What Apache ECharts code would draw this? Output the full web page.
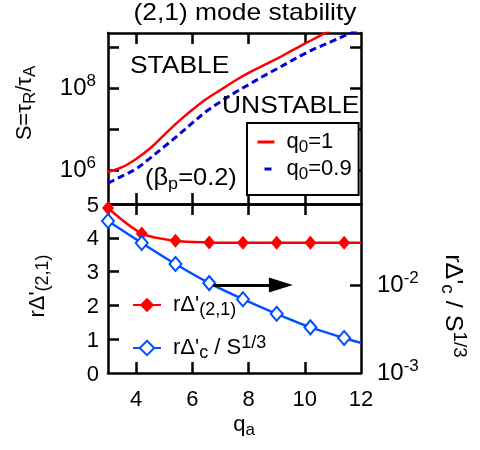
<!DOCTYPE html>
<html>
<head>
<meta charset="utf-8">
<script src="https://cdn.jsdelivr.net/npm/echarts@6/dist/echarts.min.js"></script>
<style>
  html, body { margin: 0; padding: 0; background: #fff; }
  #chart { width: 480px; height: 450px; }
</style>
</head>
<body>
<div id="chart"></div>
<script>
// ---- data ----
// Upper panel: Lundquist number threshold S = tau_R / tau_A versus q_a
const qTop = [3.0, 3.5, 4.0, 4.5, 5.0, 5.5, 6.0, 6.5, 7.0, 7.5, 8.0, 8.5, 9.0, 9.5, 10.0, 10.5, 11.0, 11.5, 12.0];
const sQ0One = [8.9e5, 1.17e6, 1.86e6, 3.39e6, 7.2e6, 1.51e7, 2.95e7, 5.4e7, 8.9e7, 1.48e8, 2.34e8, 3.47e8, 5.1e8, 7.9e8, 1.2e9, 1.82e9, 2.75e9];
const sQ0Nine = [4.8e5, 7.1e5, 1.07e6, 1.95e6, 3.7e6, 7.1e6, 1.4e7, 2.7e7, 4.6e7, 7.6e7, 1.2e8, 1.9e8, 2.9e8, 4.5e8, 6.9e8, 1.0e9, 1.4e9, 2.0e9, 2.75e9];

// Lower panel: r*Delta'(2,1) (left axis) and r*Delta'_c / S^(1/3) (right axis)
const qa = [3.0, 4.2, 5.4, 6.6, 7.8, 9.0, 10.2, 11.4, 12.0];
const rDelta21 = [4.88, 4.13, 3.91, 3.86, 3.85, 3.85, 3.85, 3.85, 3.85];
const rDeltaC = [0.0533, 0.0300, 0.0173, 0.0105, 0.0069, 0.0047, 0.0033, 0.0025, 0.0022];
const markedCount = 8; // the last point of each lower curve carries no marker

// Tick positions and labels
const xTicks = [4, 6, 8, 10];
const xTickLabels = [4, 6, 8, 10, 12];
const sTicks = [1e6, 1e7, 1e8, 1e9];
const sTickLabels = [1e6, 1e8];
const leftTicks = [1, 2, 3, 4];
const leftTickLabels = [0, 1, 2, 3, 4, 5];
const rightTicks = [0.01];
const rightTickLabels = [0.001, 0.01];

// Arrow pointing at the right-hand axis
const arrowFrom = [6.75, 0.01];
const arrowTo = [9.15, 0.01];

// Series names
const NAME_Q1 = 'q0=1';
const NAME_Q09 = 'q0=0.9';
const NAME_D21 = "rΔ'(2,1)";
const NAME_DC = "rΔ'c / S1/3";

// ---- styles ----
const FONT = "'Liberation Sans', Arial, Helvetica, sans-serif";
const BLACK = '#000';
const RED = '#ff0000';
const DARK_BLUE = '#0000d8';
const BLUE = '#0050ff';
const FS = 22;

const rich = {
  b: { fontSize: FS, fontFamily: FONT, color: BLACK, lineHeight: 28 },
  big: { fontSize: 24, fontFamily: FONT, color: BLACK, lineHeight: 30 },
  sub: { fontSize: 17, fontFamily: FONT, color: BLACK, lineHeight: 17, verticalAlign: 'bottom' },
  sup: { fontSize: 17, fontFamily: FONT, color: BLACK, lineHeight: 17, verticalAlign: 'top' },
  sub2: { fontSize: 18, fontFamily: FONT, color: BLACK, lineHeight: 18, verticalAlign: 'bottom' },
  sup2: { fontSize: 18, fontFamily: FONT, color: BLACK, lineHeight: 18, verticalAlign: 'top' },
  sp: { width: 7 }
};

const legendText = {};
legendText[NAME_Q1] = '{sp| }{b|q}{sub|0}{b|=1}';
legendText[NAME_Q09] = '{sp| }{b|q}{sub|0}{b|=0.9}';
legendText[NAME_D21] = "{sp| }{b|rΔ'}{sub2|(2,1)}";
legendText[NAME_DC] = "{sp| }{b|rΔ'}{sub2|c}{b| / S}{sup2|1/3}";

function pow10(v) {
  const e = Math.round(Math.log10(v));
  return '{big|10}{sup|' + e + '}';
}

const frameLine = { show: true, onZero: false, lineStyle: { color: BLACK, width: 2.5 } };
function ticks(values) {
  return { show: true, inside: true, length: 11, customValues: values, lineStyle: { color: BLACK, width: 2.5 } };
}
function labels(show, values, extra) {
  return Object.assign({ show: show, customValues: values, color: BLACK, fontSize: FS, fontFamily: FONT, rich: rich }, extra || {});
}

function xAxis(grid, position, showLabels) {
  return {
    type: 'value', gridIndex: grid, position: position, min: 3, max: 12,
    axisLine: frameLine, axisTick: ticks(xTicks),
    axisLabel: labels(showLabels, xTickLabels, { margin: 16 }),
    splitLine: { show: false }
  };
}

function pairs(xs, ys) {
  return ys.map((y, i) => [xs[i], y]);
}
function markedPairs(xs, ys) {
  return ys.map((y, i) => i < markedCount ? [xs[i], y] : { value: [xs[i], y], symbol: 'none' });
}

// Free-standing text: plain strings use a 24px font, marked-up strings use the rich styles
function annotation(x, y, text, opts) {
  opts = opts || {};
  const style = { text: text, rich: rich, fill: BLACK, font: '24px ' + FONT, align: opts.align || 'left', verticalAlign: 'middle' };
  return { type: 'text', x: x, y: y, z: 10, scaleX: opts.scaleX || 1, rotation: opts.rotation || 0, style: style };
}

const chart = echarts.init(document.getElementById('chart'), null, { renderer: 'canvas' });

chart.setOption({
  animation: false,
  backgroundColor: '#fff',
  grid: [
    { left: 108, top: 33, width: 253, height: 171, outerBoundsMode: 'none', containLabel: false },
    { left: 108, top: 204, width: 253, height: 169, outerBoundsMode: 'none', containLabel: false }
  ],
  xAxis: [
    xAxis(0, 'bottom', false),
    xAxis(0, 'top', false),
    xAxis(1, 'bottom', true),
    xAxis(1, 'top', false)
  ],
  yAxis: [
    {
      type: 'log', logBase: 10, gridIndex: 0, position: 'left', min: 1.48e5, max: 2.19e9,
      axisLine: frameLine, axisTick: ticks(sTicks),
      axisLabel: labels(true, sTickLabels, { margin: 12, formatter: pow10 }),
      splitLine: { show: false }, minorTick: { show: false }
    },
    {
      type: 'log', logBase: 10, gridIndex: 0, position: 'right', min: 1.48e5, max: 2.19e9,
      axisLine: frameLine, axisTick: ticks(sTicks),
      axisLabel: { show: false }, splitLine: { show: false }
    },
    {
      type: 'value', gridIndex: 1, position: 'left', min: 0, max: 5,
      axisLine: frameLine, axisTick: ticks(leftTicks),
      axisLabel: labels(true, leftTickLabels, { margin: 9, padding: [3, 0, 0, 0] }),
      splitLine: { show: false }
    },
    {
      type: 'log', logBase: 10, gridIndex: 1, position: 'right', min: 0.001, max: 0.0832,
      axisLine: frameLine, axisTick: ticks(rightTicks),
      axisLabel: labels(true, rightTickLabels, { margin: 16, formatter: pow10 }),
      splitLine: { show: false }
    }
  ],
  legend: [
    {
      orient: 'vertical', left: 247, top: 123,
      padding: [8, 7, 12, 9], itemGap: 2, itemWidth: 17, itemHeight: 14,
      borderColor: BLACK, borderWidth: 2, backgroundColor: '#fff',
      selectedMode: false,
      data: [
        { name: NAME_Q1, itemStyle: { opacity: 0 }, lineStyle: { width: 3 } },
        { name: NAME_Q09, itemStyle: { opacity: 0 }, lineStyle: { width: 3, type: [0, 7, 7, 20] } }
      ],
      formatter: name => legendText[name],
      textStyle: { fontSize: FS, fontFamily: FONT, color: BLACK, rich: rich }
    },
    {
      orient: 'vertical', left: 132, top: 294,
      padding: 0, itemGap: 15, itemWidth: 28, itemHeight: 18,
      selectedMode: false,
      data: [NAME_D21, NAME_DC],
      formatter: name => legendText[name],
      textStyle: { fontSize: FS, fontFamily: FONT, color: BLACK, rich: rich }
    }
  ],
  series: [
    {
      type: 'line', name: NAME_Q1, xAxisIndex: 0, yAxisIndex: 0,
      data: pairs(qTop, sQ0One), smooth: 0.35, symbol: 'none',
      lineStyle: { color: RED, width: 2.5 }, itemStyle: { color: RED }
    },
    {
      type: 'line', name: NAME_Q09, xAxisIndex: 0, yAxisIndex: 0,
      data: pairs(qTop, sQ0Nine), smooth: 0.35, symbol: 'none',
      lineStyle: { color: DARK_BLUE, width: 3, type: [7, 4] }, itemStyle: { color: DARK_BLUE }
    },
    {
      type: 'line', name: NAME_D21, xAxisIndex: 2, yAxisIndex: 2,
      data: markedPairs(qa, rDelta21), smooth: 0.3, clip: false,
      symbol: 'diamond', symbolSize: [12, 14],
      lineStyle: { color: RED, width: 2.5 }, itemStyle: { color: RED }
    },
    {
      type: 'line', name: NAME_DC, xAxisIndex: 2, yAxisIndex: 3,
      data: markedPairs(qa, rDeltaC), smooth: 0.2, clip: false,
      symbol: 'emptyDiamond', symbolSize: [12, 14],
      lineStyle: { color: BLUE, width: 2.5 }, itemStyle: { color: BLUE, borderWidth: 1.8 },
      markLine: {
        silent: true, symbol: ['none', 'triangle'], symbolSize: 16,
        label: { show: false }, emphasis: { disabled: true },
        lineStyle: { color: BLACK, width: 3, type: 'solid' },
        data: [[
          { coord: arrowFrom, symbol: 'none' },
          { coord: arrowTo, symbol: 'triangle', symbolSize: [15, 24], itemStyle: { color: BLACK } }
        ]]
      }
    }
  ],
  graphic: [
    annotation(245, 13, '(2,1) mode stability', { scaleX: 1.1, align: 'center' }),
    annotation(130, 66, 'STABLE', { scaleX: 1.1 }),
    annotation(222, 106, 'UNSTABLE', { scaleX: 1.1 }),
    annotation(145, 178, '{big|(β}{sub|p}{big|=0.2)}', { scaleX: 1.06 }),
    annotation(25, 103, '{b|S=τ}{sub|R}{b|/τ}{sub|A}', { rotation: Math.PI / 2, align: 'center' }),
    annotation(38, 286, "{b|rΔ'}{sub2|(2,1)}", { rotation: Math.PI / 2, align: 'center' }),
    annotation(453, 306, "{big|rΔ'}{sub2|c}{big| / S}{sup2|1/3}", { rotation: -Math.PI / 2, align: 'center', scaleX: 1.05 }),
    annotation(244, 425, '{b|q}{sub|a}', { align: 'center' })
  ]
});
</script>
</body>
</html>
